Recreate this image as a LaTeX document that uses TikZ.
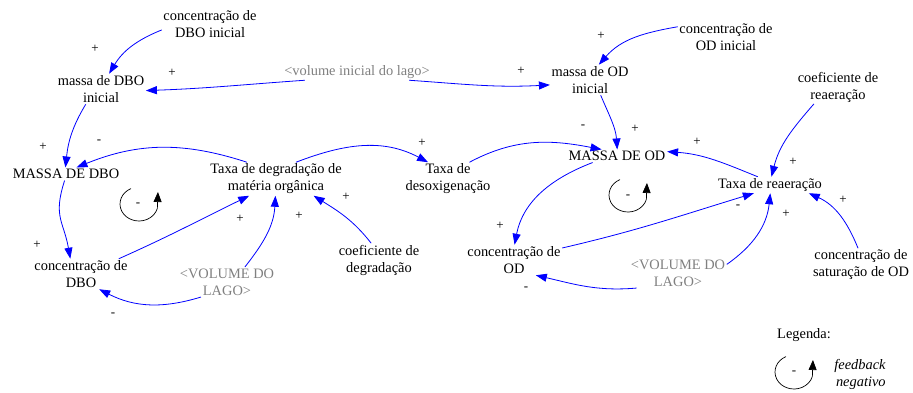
\documentclass[tikz,border=0pt]{standalone}
\usepackage{fontspec}
\setmainfont{Liberation Serif}
\usetikzlibrary{arrows.meta}
\definecolor{linkblue}{RGB}{0,0,255}
\definecolor{shadowgray}{RGB}{128,128,128}
\newfontfamily\vfam{Liberation Serif}
\newcommand\vtxt{\vfam\fontsize{14.4}{17}\selectfont}
\newcommand\ptxt{\vfam\fontsize{13}{15}\selectfont}
\begin{document}
\begin{tikzpicture}[x=1pt,y=1pt,
  var/.style={align=center, font=\vtxt, inner sep=1.5pt, text=black},
  shadowvar/.style={var, text=shadowgray},
  lnk/.style={draw=linkblue, line width=0.8pt, -{Triangle[length=11pt,width=8pt]}},
  pol/.style={font=\ptxt, inner sep=0pt},
  loopline/.style={draw=black, line width=0.7pt, -{Triangle[length=10pt,width=8pt]}}]
\fill[white] (0,0) rectangle (913,392);
\useasboundingbox (0,0) rectangle (913,392);
% variables left
\node[var] (cdboi) at (210,368) {concentração de\\DBO inicial};
\node[var] (mdboi) at (101,303) {massa de DBO\\inicial};
\node[shadowvar] (vil) at (357,320) {<volume inicial do lago>};
\node[var] (MDBO) at (66,218) {MASSA DE DBO};
\node[var] (tdeg) at (276,213) {Taxa de degradação de\\matéria orgânica};
\node[var] (tdes) at (448,213) {Taxa de\\desoxigenação};
\node[var] (cdbo) at (81,118) {concentração de\\DBO};
\node[shadowvar] (vlL) at (227,110) {<VOLUME DO\\LAGO>};
\node[var] (cdeg) at (379,132) {coeficiente de\\degradação};
% variables right
\node[var] (codi) at (726,355) {concentração de\\OD inicial};
\node[var] (modi) at (590,312) {massa de OD\\inicial};
\node[var] (crea) at (838,305) {coeficiente de\\reaeração};
\node[var] (MOD) at (617,236) {MASSA DE OD};
\node[var] (trea) at (770,207) {Taxa de reaeração};
\node[var] (cod) at (514,132) {concentração de\\OD};
\node[shadowvar] (vlR) at (678,119) {<VOLUME DO\\LAGO>};
\node[var] (csat) at (861,127) {concentração de\\saturação de OD};
% links
\draw[lnk] (cdboi.187) to[out=202,in=59] (mdboi.62);
\draw[lnk] (vil.189) to[out=184,in=2] (mdboi.-2);
\draw[lnk] (vil.-9) to[out=-4,in=183] (modi.187);
\draw[lnk] (mdboi.225) to[out=239,in=84] (MDBO.95);
\draw[lnk] (tdeg.150) to[out=162,in=22] (MDBO.32);
\draw[lnk] (tdeg.40) to[out=21,in=152] (tdes.140);
\draw[lnk] (MDBO.258) to[out=252,in=100,looseness=1.25] (cdbo.125);
\draw[lnk] (cdbo.22) to[out=24,in=206] (tdeg.212);
\draw[lnk] (vlL.40) to[out=52,in=267] (tdeg.268);
\draw[lnk] (cdeg.115) to[out=128,in=328] (tdeg.-24);
\draw[lnk] (vlL.210) to[out=197,in=333] (cdbo.-40);
\draw[lnk] (codi.168) to[out=190,in=49] (modi.60);
\draw[lnk] (modi.-55) to[out=293,in=94] (MOD.88);
\draw[lnk] (tdes.38) to[out=28,in=169] (MOD.157);
\draw[lnk] (trea.146) to[out=158,in=356] (MOD.5);
\draw[lnk] (crea.215) to[out=229,in=76] (trea.80);
\draw[lnk] (MOD.195) to[out=201,in=79] (cod.88);
\draw[lnk] (cod.14) to[out=13,in=197] (trea.207);
\draw[lnk] (vlR.10) to[out=35,in=264] (trea.-88);
\draw[lnk] (csat.100) to[out=112,in=336] (trea.-12);
\draw[lnk] (vlR.200) to[out=185,in=347] (cod.-35);
% polarities
\node[pol] (p1) at (95,343) {+};
\node[pol] (p2) at (172,319) {+};
\node[pol] (p3) at (43,245) {+};
\node[pol] (p4) at (99,250) {-};
\node[pol] (p5) at (422,249) {+};
\node[pol] (p6) at (37,147) {+};
\node[pol] (p7) at (240,173) {+};
\node[pol] (p8) at (299,176) {+};
\node[pol] (p9) at (346,195) {+};
\node[pol] (p10) at (113,77) {-};
\node[pol] (p11) at (601,356) {+};
\node[pol] (p12) at (521,321) {+};
\node[pol] (p13) at (583,265) {-};
\node[pol] (p14) at (635,263) {+};
\node[pol] (p15) at (697,250) {+};
\node[pol] (p16) at (793,230) {+};
\node[pol] (p17) at (500,166) {+};
\node[pol] (p18) at (738,185) {-};
\node[pol] (p19) at (786,178) {+};
\node[pol] (p20) at (843,192) {+};
\node[pol] (p21) at (526,103) {-};
% loops
\coordinate (cL) at (139,188);
\coordinate (cR) at (628,197);
\coordinate (cG) at (794,20);
\draw[loopline] (cL) ++(115:19 and 17) arc[start angle=115, end angle=345, x radius=19, y radius=17] -- ++(0.6,16.4);
\draw[loopline] (cR) ++(115:19 and 17) arc[start angle=115, end angle=345, x radius=19, y radius=17] -- ++(0.6,16.4);
\draw[loopline] (cG) ++(115:19 and 17) arc[start angle=115, end angle=345, x radius=19, y radius=17] -- ++(0.6,16.4);
\node[pol] (lL) at (138,187) {-};
\node[pol] (lR) at (628,195) {-};
\node[pol] (lG) at (794,19) {-};
% legend
\node[var] (leg) at (804,57) {Legenda:};
\node[var, font=\vtxt\itshape, align=right] (fbn) at (860,18) {feedback\\negativo};
\end{tikzpicture}
\end{document}
